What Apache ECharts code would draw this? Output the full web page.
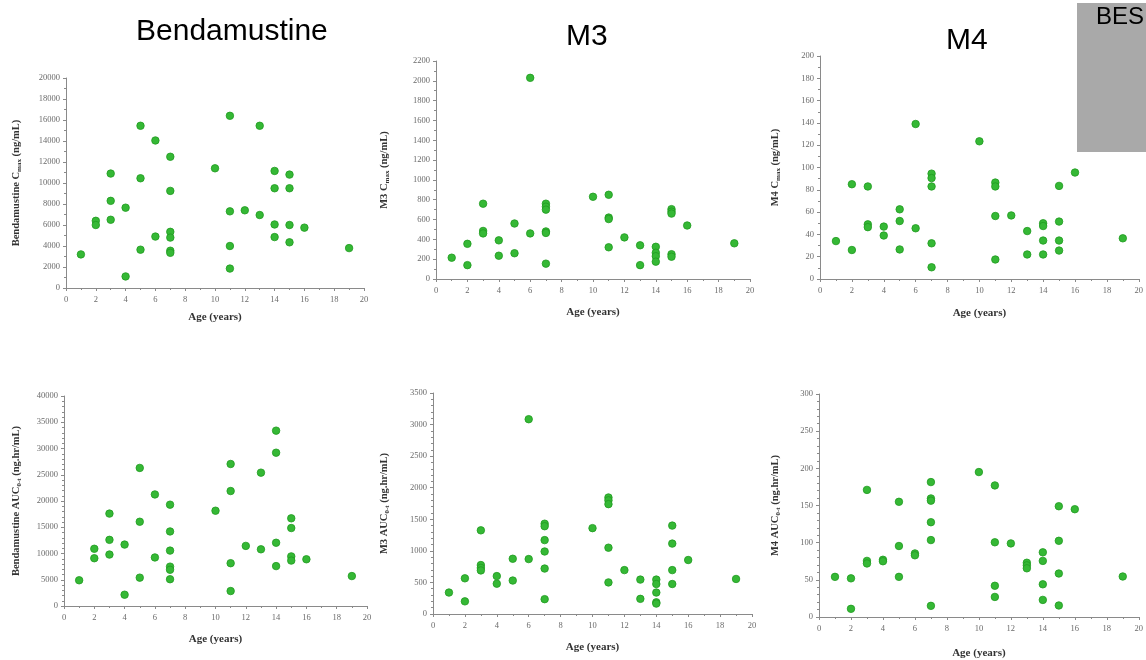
<!DOCTYPE html>
<html>
<head>
<meta charset="utf-8">
<script src="https://cdn.jsdelivr.net/npm/echarts@6/dist/echarts.min.js"></script>
<style>html,body{margin:0;padding:0;background:#fff;}#c{width:1146px;height:660px;}</style>
</head>
<body>
<div id="c"></div>
<script>
// ---- Data ----
const xTicks = [0, 2, 4, 6, 8, 10, 12, 14, 16, 18, 20];

const bendaCmaxAge = [1, 2,2, 3,3,3, 4,4, 5,5,5, 6,6, 7,7,7,7,7,7, 10, 11,11,11,11, 12, 13,13, 14,14,14,14, 15,15,15,15, 16, 19];
const bendaCmaxVal = [3200, 6400,6000, 10900,8300,6500, 7650,1100, 15450,10450,3650, 14050,4900, 12500,9250,5350,4800,3550,3350, 11400, 16400,7300,4000,1850, 7400, 15450,6950, 11150,9500,6050,4850, 10800,9500,6000,4350, 5750, 3800];

const m3CmaxAge = [1, 2,2, 3,3,3, 4,4, 5,5, 6,6, 7,7,7,7,7,7, 10, 11,11,11,11, 12, 13,13, 14,14,14,14, 15,15,15,15,15, 16, 19];
const m3CmaxVal = [215, 355,140, 760,485,460, 390,235, 560,260, 2030,460, 760,730,700,480,465,155, 830, 850,620,605,320, 420, 340,140, 325,265,230,175, 705,680,660,250,225, 540, 360];

const m4CmaxAge = [1, 2,2, 3,3,3, 4,4, 5,5,5, 6,6, 7,7,7,7,7, 10, 11,11,11,11, 12, 13,13, 14,14,14,14, 15,15,15,15, 16, 19];
const m4CmaxVal = [34, 85,26, 83,49,46.5, 47,39, 62.5,52,26.5, 139,45.5, 94.5,90.5,83,32,10.5, 123.5, 86.5,83,56.5,17.5, 57, 43,22, 50,47.5,34.5,22, 83.5,51.5,34.5,25.5, 95.5, 36.5];

const bendaAucAge = [1, 2,2, 3,3,3, 4,4, 5,5,5, 6,6, 7,7,7,7,7,7, 10, 11,11,11,11, 12, 13,13, 14,14,14,14, 15,15,15,15, 16, 19];
const bendaAucVal = [4900, 10900,9100, 17600,12600,9800, 11700,2150, 26300,16050,5400, 21250,9250, 19300,14200,10550,7500,6900,5100, 18150, 27050,21900,8150,2850, 11450, 25400,10800, 33400,29200,12050,7600, 16700,14850,9450,8650, 8900, 5700];

const m3AucAge = [1, 2,2, 3,3,3,3, 4,4, 5,5, 6,6, 7,7,7,7,7,7, 10, 11,11,11,11,11, 12, 13,13, 14,14,14,14,14, 15,15,15,15, 16, 19];
const m3AucVal = [340, 565,200, 1325,775,730,690, 600,480, 875,530, 3085,870, 1430,1390,1170,990,720,235, 1360, 1845,1800,1740,1050,500, 695, 545,240, 545,475,340,185,165, 1400,1115,695,475, 855, 555];

const m4AucAge = [1, 2,2, 3,3,3, 4,4, 5,5,5, 6,6, 7,7,7,7,7,7, 10, 11,11,11,11, 12, 13,13,13, 14,14,14,14, 15,15,15,15, 16, 19];
const m4AucVal = [54, 52,11, 171,75.5,72, 77,75, 155,95.5,54, 85.5,83, 181.5,159.5,156.5,127.5,103.5,15, 195, 177,100.5,42,27, 99, 73,69.5,65.5, 87,75.5,44,23, 149,102.5,58.5,15.5, 145, 54.5];

const columnTitles = ['Bendamustine', 'M3', 'M4'];
const xAxisTitle = 'Age (years)';
const yTitles = [
  'Bendamustine C{sub|max} (ng/mL)',
  'M3 C{sub|max} (ng/mL)',
  'M4 C{sub|max} (ng/mL)',
  'Bendamustine AUC{sub|0-t} (ng.hr/mL)',
  'M3 AUC{sub|0-t} (ng.hr/mL)',
  'M4 AUC{sub|0-t} (ng.hr/mL)'
];
const yMax = [20000, 2200, 200, 40000, 3500, 300];
const yStep = [2000, 200, 20, 5000, 500, 50];
const yMinorSplit = [2, 2, 2, 5, 5, 5];

// ---- Layout ----
const panels = [
  {age: bendaCmaxAge, val: bendaCmaxVal, grid: {left: 66, top: 78, width: 298, height: 210}, xGap: 24, yGap: 43},
  {age: m3CmaxAge, val: m3CmaxVal, grid: {left: 436, top: 61, width: 314, height: 218}, xGap: 28, yGap: 45},
  {age: m4CmaxAge, val: m4CmaxVal, grid: {left: 820, top: 56, width: 320, height: 223}, xGap: 29, yGap: 38},
  {age: bendaAucAge, val: bendaAucVal, grid: {left: 64, top: 396, width: 303, height: 210}, xGap: 28, yGap: 41},
  {age: m3AucAge, val: m3AucVal, grid: {left: 433, top: 393, width: 319, height: 221}, xGap: 28, yGap: 42},
  {age: m4AucAge, val: m4AucVal, grid: {left: 819, top: 394, width: 322, height: 224}, xGap: 31, yGap: 37}
];

const serif = '"Liberation Serif", "DejaVu Serif", serif';
const axisColor = '#8a8a8a';
const labelColor = '#6a6a6a';
const plain = v => String(v);

const grids = [], xAxes = [], yAxes = [], series = [];
panels.forEach((p, i) => {
  grids.push(Object.assign({containLabel: false}, p.grid));
  xAxes.push({
    type: 'value', gridIndex: i, min: xTicks[0], max: xTicks[xTicks.length - 1], interval: 2,
    name: xAxisTitle, nameLocation: 'middle', nameGap: p.xGap,
    nameTextStyle: {fontFamily: serif, fontWeight: 'bold', fontSize: 11, color: '#333'},
    axisLine: {show: true, lineStyle: {color: axisColor, width: 1}},
    axisTick: {show: true, length: 3, lineStyle: {color: axisColor}},
    minorTick: {show: true, splitNumber: 2, length: 2, lineStyle: {color: axisColor}},
    axisLabel: {fontFamily: serif, fontSize: 8.5, color: labelColor, margin: 7, formatter: plain},
    splitLine: {show: false}
  });
  yAxes.push({
    type: 'value', gridIndex: i, min: 0, max: yMax[i], interval: yStep[i],
    name: yTitles[i], nameLocation: 'middle', nameGap: p.yGap,
    nameTextStyle: {
      fontFamily: serif, fontWeight: 'bold', fontSize: 10.5, color: '#333', lineHeight: 14,
      rich: {sub: {fontFamily: serif, fontWeight: 'bold', fontSize: 7, color: '#333', verticalAlign: 'bottom', lineHeight: 14}}
    },
    axisLine: {show: true, lineStyle: {color: axisColor, width: 1}},
    axisTick: {show: true, length: 3, lineStyle: {color: axisColor}},
    minorTick: {show: true, splitNumber: yMinorSplit[i], length: 2, lineStyle: {color: axisColor}},
    axisLabel: {fontFamily: serif, fontSize: 8.5, color: labelColor, margin: 6, formatter: plain},
    splitLine: {show: false}
  });
  series.push({
    type: 'scatter', xAxisIndex: i, yAxisIndex: i,
    data: p.age.map((a, k) => [a, p.val[k]]),
    symbol: 'circle', symbolSize: 7.5,
    itemStyle: {color: '#35b835', borderColor: '#1f9a1f', borderWidth: 0.8, opacity: 1},
    silent: true
  });
});

const sans = '"Liberation Sans", Arial, sans-serif';
const graphics = [
  {type: 'text', left: 136, top: 17, style: {text: columnTitles[0], font: '30px ' + sans, fill: '#000'}},
  {type: 'text', left: 566, top: 22, style: {text: columnTitles[1], font: '30px ' + sans, fill: '#000'}},
  {type: 'text', left: 946, top: 26, style: {text: columnTitles[2], font: '30px ' + sans, fill: '#000'}},
  {type: 'rect', shape: {x: 1077, y: 3, width: 69, height: 149}, style: {fill: '#a9a9a9'}},
  {type: 'text', x: 1096, y: 5, style: {text: 'BES', font: '24px ' + sans, fill: '#000'}},
  {type: 'text', x: -1, y: -11, style: {text: 'I', font: 'bold 15px ' + serif, fill: '#000'}}
];

const chart = echarts.init(document.getElementById('c'), null, {renderer: 'canvas'});
chart.setOption({
  animation: false,
  backgroundColor: '#fff',
  grid: grids, xAxis: xAxes, yAxis: yAxes, series: series,
  graphic: graphics
});
</script>
</body>
</html>
